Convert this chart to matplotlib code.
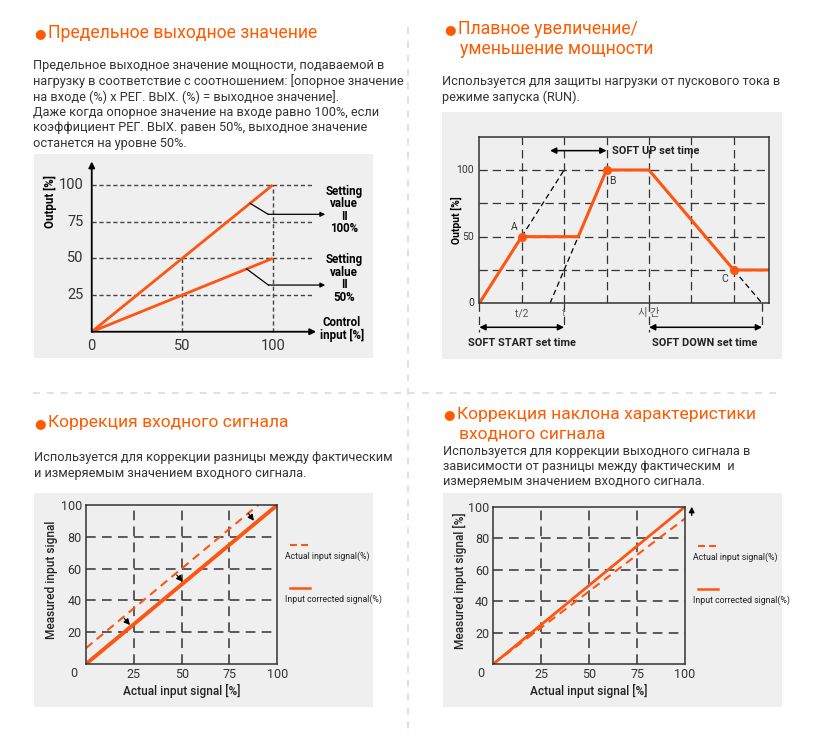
import matplotlib
matplotlib.use("Agg")
import matplotlib.pyplot as plt
from matplotlib.patches import Rectangle
from matplotlib.lines import Line2D

plt.rcParams["lines.scale_dashes"] = False

W, H = 816, 741
ORANGE = "#ff5512"
TITLE_ORANGE = "#ff5a00"
PANEL_BG = "#efefef"
TEXT = "#333333"
GRID = "#333333"
SANS = ["Roboto", "DejaVu Sans"]
NARROW = ["Roboto", "DejaVu Sans"]
KR = ["Noto Sans CJK KR", "DejaVu Sans"]

# ---- panel 1: output limit
p1_x = [0, 100]
p1_out_100 = [0, 100]
p1_out_50 = [0, 50]
p1_levels = [25, 50, 75, 100]
p1_xticks = [0, 50, 100]

# ---- panel 2: soft start / up / down (x in t/2 steps)
p2_x = [0, 1, 2.333, 3, 4, 6, 6.83]
p2_y = [0, 50, 50, 100, 100, 25, 25]
p2_pts_x = [1, 3, 6]
p2_pts_y = [50, 100, 25]
p2_pts_lab = ["A", "B", "C"]
p2_vgrid = [1, 2, 3, 4, 5, 6]
p2_hgrid = [25, 50, 75, 100]

# ---- panel 3: input correction
p3_actual_x = [0, 90]
p3_actual_y = [10, 100]
p3_corr_x = [0, 100]
p3_corr_y = [0, 100]
p3_arrow_from = [(20, 28.7), (47.4, 56), (84.8, 94.8)]
p3_arrow_to = [(23, 24.5), (50.5, 51.8), (87.8, 90.1)]

# ---- panel 4: slope correction
p4_actual_x = [0, 100]
p4_actual_y = [0, 92.5]
p4_corr_x = [0, 100]
p4_corr_y = [0, 100]

xticks_34 = [25, 50, 75, 100]
yticks_34 = [20, 40, 60, 80, 100]

fig = plt.figure(figsize=(W / 100, H / 100), dpi=100)
fig.patch.set_facecolor("white")


def px_axes(x0, y0, x1, y1, **kw):
    return fig.add_axes([x0 / W, 1 - y1 / H, (x1 - x0) / W, (y1 - y0) / H], **kw)


def ftext(x, y, s, **kw):
    fig.text(x / W, 1 - y / H, s, **kw)


def bg(x0, y0, x1, y1):
    fig.add_artist(Rectangle((x0 / W, 1 - y1 / H), (x1 - x0) / W, (y1 - y0) / H,
                             transform=fig.transFigure, facecolor=PANEL_BG,
                             edgecolor="none", zorder=0))


def bare(ax):
    for s in ax.spines.values():
        s.set_visible(False)
    ax.set_xticks([])
    ax.set_yticks([])


# dividers
fig.add_artist(Line2D([407.7 / W, 407.7 / W], [1 - 27 / H, 1 - 732 / H],
                      transform=fig.transFigure, color="#dcdcdc", lw=1.2,
                      ls=(0, (5, 5))))
fig.add_artist(Line2D([33 / W, 782 / W], [1 - 392.7 / H, 1 - 392.7 / H],
                      transform=fig.transFigure, color="#dcdcdc", lw=1.2,
                      ls=(0, (5, 5))))


# titles and texts
def title(xb, y, lines, family, size, indent=11):
    ftext(xb - 3, y + 0.5, "\u25cf", family=["DejaVu Sans"], fontsize=9.5,
          color=TITLE_ORANGE, ha="left", va="center")
    for i, ln in enumerate(lines):
        ftext(xb + indent + (2 if i else 0), y + i * 20, ln, family=family,
              fontsize=size, color=TITLE_ORANGE, ha="left", va="center")


def body(x, y0, lines, family, size, step):
    for i, ln in enumerate(lines):
        ftext(x, y0 + i * step, ln, family=family, fontsize=size,
              color=TEXT, ha="left", va="center")


title(37, 33, ["Предельное выходное значение"], SANS, 12.7)
body(33, 66, ["Предельное выходное значение мощности, подаваемой в",
              "нагрузку в соответствие с соотношением: [опорное значение",
              "на входе (%) x РЕГ. ВЫХ. (%) = выходное значение].",
              "Даже когда опорное значение на входе равно 100%, если",
              "коэффициент РЕГ. ВЫХ. равен 50%, выходное значение",
              "останется на уровне 50%."], SANS, 9.2, 15.4)

title(447, 29, ["Плавное увеличение/", "уменьшение мощности"], SANS, 12.7)
body(442, 82, ["Используется для защиты нагрузки от пускового тока в",
               "режиме запуска (RUN)."], SANS, 9.2, 15.4)

title(37, 423, ["Коррекция входного сигнала"], NARROW, 12.6)
body(34, 458, ["Используется для коррекции разницы между фактическим",
               "и измеряемым значением входного сигнала."], NARROW, 9.2, 15)

title(446, 414, ["Коррекция наклона характеристики", "входного сигнала"],
      NARROW, 12.6)
body(443, 451, ["Используется для коррекции выходного сигнала в",
                "зависимости от разницы между фактическим  и",
                "измеряемым значением входного сигнала."], NARROW, 9.2, 15)

# ================= panel 1
ax1 = px_axes(34, 154, 373, 358)
ax1.set_facecolor(PANEL_BG)
bare(ax1)
ax1.set_xlim(-31.9, 155.4)
ax1.set_ylim(-17.9, 121.1)
ax1.hlines(p1_levels, 0, 123, colors="#444444", lw=1, linestyles=[(0, (3, 2))])
ax1.vlines([50, 100], 0, [50, 100], colors="#444444", lw=1,
           linestyles=[(0, (3, 2))])
ax1.plot(p1_x, p1_out_100, color=ORANGE, lw=2, solid_capstyle="butt")
ax1.plot(p1_x, p1_out_50, color=ORANGE, lw=2, solid_capstyle="butt")
arr = dict(arrowstyle="-|>", color="black", lw=1.3, mutation_scale=9,
           shrinkA=0, shrinkB=0)
ax1.annotate("", xy=(0, 116), xytext=(0, 0), arrowprops=arr)
ax1.annotate("", xy=(124, 0), xytext=(0, 0), arrowprops=arr)
for v in p1_levels:
    ax1.text(-4.6, v, str(v), ha="right", va="center", fontsize=10.5,
             family=SANS, color=TEXT)
for v in p1_xticks:
    ax1.text(v, -9.7, str(v), ha="center", va="center", fontsize=10.5,
             family=SANS, color=TEXT)
ax1.text(-22.7, 88.4, "Output [%]", rotation=90, ha="center", va="center",
         fontsize=8.3, family=NARROW, weight="bold", color="black")
ax1.text(138.2, 1.8, "Control\ninput [%]", ha="center", va="center",
         fontsize=8.3, family=NARROW, weight="bold", linespacing=1.0)
lead = dict(arrowstyle="-|>", color="black", lw=0.9, mutation_scale=7,
            shrinkA=0, shrinkB=0)
ax1.plot([87.5, 97.5], [87.5, 80], color="black", lw=0.9)
ax1.annotate("", xy=(129, 80), xytext=(97.5, 80), arrowprops=lead)
ax1.plot([85.6, 97.6], [42.8, 31.8], color="black", lw=0.9)
ax1.annotate("", xy=(129, 31.8), xytext=(97.6, 31.8), arrowprops=lead)
ax1.text(139.4, 83, "Setting\nvalue\nII\n100%", ha="center", va="center",
         fontsize=8.3, family=NARROW, weight="bold", linespacing=0.95)
ax1.text(139.4, 36.4, "Setting\nvalue\nII\n50%", ha="center", va="center",
         fontsize=8.3, family=NARROW, weight="bold", linespacing=0.95)

# ================= panel 2
bg(442, 112, 782, 359)
ax2 = px_axes(479.3, 137.3, 769, 303.3)
ax2.set_facecolor("none")
bare(ax2)
for s in ax2.spines.values():
    s.set_visible(True)
    s.set_linewidth(1.1)
    s.set_color(GRID)
ax2.set_xlim(0, 6.83)
ax2.set_ylim(0, 124.5)
dash2 = (0, (6, 3.5))
for v in p2_vgrid:
    ax2.axvline(v, color=GRID, lw=0.9, ls=dash2)
for v in p2_hgrid:
    ax2.axhline(v, color=GRID, lw=0.9, ls=dash2)
ax2.plot([1, 2], [50, 100], color="black", lw=0.9, ls=(0, (4, 2.5)))
ax2.plot([1.667, 2.333], [0, 50], color="black", lw=0.9, ls=(0, (4, 2.5)))
ax2.plot([6, 6.667], [25, 0], color="black", lw=0.9, ls=(0, (4, 2.5)))
for v, yb in [(0, -21.3), (2, -17.5), (4, -21.3), (6.667, -17.5)]:
    ax2.plot([v, v], [0, yb], color=GRID, lw=0.9, ls=dash2, clip_on=False)
ax2.plot(p2_x, p2_y, color=ORANGE, lw=2.2, solid_joinstyle="miter")
ax2.plot(p2_pts_x, p2_pts_y, "o", color=ORANGE, ms=5.5, zorder=5)
for xx, yy, lab in zip([0.825, 3.14, 5.79], [57, 92, 18], p2_pts_lab):
    ax2.text(xx, yy, lab, ha="center", va="center", fontsize=7.5,
             family=SANS, color=TEXT)
dbl = dict(arrowstyle="<|-|>", color="black", lw=1.1, mutation_scale=9,
           shrinkA=0, shrinkB=0)
ax2.annotate("", xy=(2, -18), xytext=(0, -18), arrowprops=dbl,
             annotation_clip=False)
ax2.annotate("", xy=(6.667, -18), xytext=(4, -18), arrowprops=dbl,
             annotation_clip=False)
ax2.annotate("", xy=(3, 114.5), xytext=(1.667, 114.5), arrowprops=dbl)
ax2.text(3.14, 114.5, "SOFT UP set time", ha="left", va="center",
         fontsize=7.9, family=NARROW, weight="bold", color="#222222")
ax2.text(1.0, -30, "SOFT START set time", ha="center", va="center",
         fontsize=7.9, family=NARROW, weight="bold", color="#222222")
ax2.text(5.32, -30, "SOFT DOWN set time", ha="center", va="center",
         fontsize=7.9, family=NARROW, weight="bold", color="#222222")
for v, lab in [(0, "0"), (50, "50"), (100, "100")]:
    ax2.text(-0.12, v, lab, ha="right", va="center", fontsize=7.5,
             family=SANS, color=TEXT)
ax2.text(1, -7.3, "t/2", ha="center", va="center", fontsize=7.5,
         family=SANS, color="#555555")
ax2.text(2, -7.3, "t", ha="center", va="center", fontsize=7.5,
         family=SANS, color="#888888")
ax2.text(4, -7.3, "시 간", ha="center", va="center", fontsize=7.5,
         family=KR, color="#555555")
ax2.text(-0.55, 62.5, "Output [%]", rotation=90, ha="center", va="center",
         fontsize=7.5, family=NARROW, weight="bold", color="black")


# ================= panels 3 and 4
def corr_panel(box, actual_x, actual_y, corr_x, corr_y, corr_lw, ylabel,
               lab_pos):
    x0, y0, x1, y1 = box
    ax = px_axes(x0, y0, x1, y1)
    ax.set_facecolor("none")
    ax.set_xlim(0, 100)
    ax.set_ylim(0, 100)
    for s in ax.spines.values():
        s.set_linewidth(1.1)
        s.set_color(GRID)
    dash = (0, (7, 4.5))
    for v in xticks_34[:-1]:
        ax.axvline(v, color=GRID, lw=1.1, ls=dash)
    for v in yticks_34[:-1]:
        ax.axhline(v, color=GRID, lw=1.1, ls=dash)
    ax.plot(actual_x, actual_y, color=ORANGE, lw=1.5, ls=(0, (6, 4)))
    ax.plot(corr_x, corr_y, color=ORANGE, lw=corr_lw)
    ax.set_xticks(xticks_34)
    ax.set_yticks(yticks_34)
    ax.tick_params(length=0, pad=3, labelsize=9, labelcolor=TEXT)
    for lbl in ax.get_xticklabels() + ax.get_yticklabels():
        lbl.set_family(SANS)
    ax.text(-4.5, -6, "0", ha="right", va="center", fontsize=9,
            family=SANS, color=TEXT)
    xl, yl = lab_pos
    ax.text(50, -17, "Actual input signal [%]", ha="center", va="center",
            fontsize=8.6, family=NARROW, weight="medium", color="#222222")
    ax.text(-yl, 53, ylabel, rotation=90, ha="center", va="center",
            fontsize=8.6, family=NARROW, weight="medium", color="#222222")
    ax.plot([106.7, 117], [74.7, 74.7], color=ORANGE, lw=1.5,
            ls=(0, (5, 3)), clip_on=False)
    ax.plot([106.7, 117], [47.8, 47.8], color=ORANGE, lw=1.8, clip_on=False)
    ax.text(xl, 68, "Actual input signal(%)", ha="left", va="center",
            fontsize=6.3, family=NARROW, color="#222222")
    ax.text(xl, 40.5, "Input corrected signal(%)", ha="left", va="center",
            fontsize=6.3, family=NARROW, color="#222222")
    return ax


bg(34, 493, 373, 707)
ax3 = corr_panel((86, 505, 277.3, 664), p3_actual_x, p3_actual_y,
                 p3_corr_x, p3_corr_y, 2.8, "Measured input signal",
                 (104, 18))
for a, b in zip(p3_arrow_from, p3_arrow_to):
    ax3.annotate("", xy=b, xytext=a,
                 arrowprops=dict(arrowstyle="-|>", color="black", lw=0.8,
                                 mutation_scale=9, shrinkA=0, shrinkB=0))

bg(443, 493, 782, 707)
ax4 = corr_panel((493.3, 506.7, 685, 664), p4_actual_x, p4_actual_y,
                 p4_corr_x, p4_corr_y, 2.0, "Measured input signal [%]",
                 (104.2, 17.5))
ax4.annotate("", xy=(103.5, 100), xytext=(103.5, 94.5),
             arrowprops=dict(arrowstyle="-|>", color="black", lw=1,
                             mutation_scale=8, shrinkA=0, shrinkB=0),
             annotation_clip=False)

fig.savefig("out.png", dpi=100, facecolor="white")
